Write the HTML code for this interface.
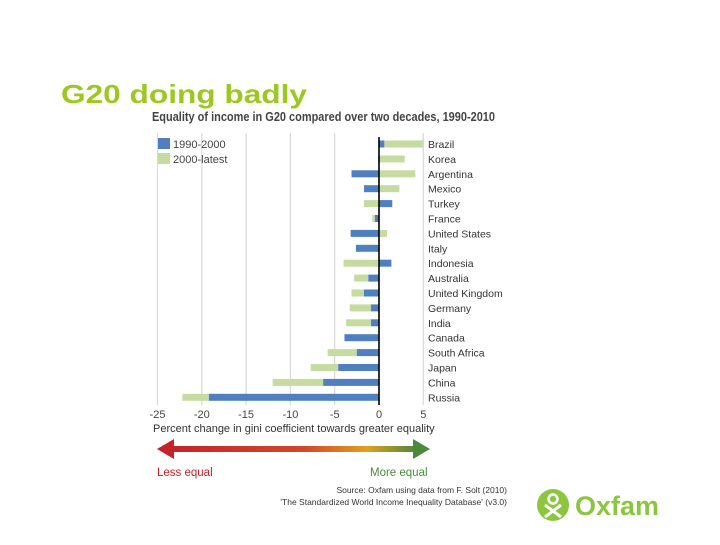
<!DOCTYPE html>
<html><head><meta charset="utf-8"><style>
body{margin:0;background:#fff;width:720px;height:540px;overflow:hidden;font-family:"Liberation Sans",sans-serif}
</style></head><body>
<svg width="720" height="540" xmlns="http://www.w3.org/2000/svg">
<defs>
<linearGradient id="ag" x1="0" x2="1"><stop offset="0" stop-color="#c4232a"/><stop offset="0.55" stop-color="#cf4a2a"/><stop offset="0.8" stop-color="#e0a020"/><stop offset="1" stop-color="#4a8a3a"/></linearGradient>
</defs>
<text x="61" y="103" font-size="26" font-weight="bold" fill="#9dc820" textLength="246" lengthAdjust="spacingAndGlyphs">G20 doing badly</text>
<text x="152" y="121" font-size="12.5" font-weight="bold" fill="#444" textLength="343" lengthAdjust="spacingAndGlyphs">Equality of income in G20 compared over two decades, 1990-2010</text>
<g id="grid"></g>
<g id="bars"></g>
<g id="labels"></g>
<rect x="158" y="138" width="12" height="11" fill="#4f7fbf"/>
<text x="173" y="148" font-size="11" fill="#444">1990-2000</text>
<rect x="158" y="153" width="12" height="11" fill="#c6dba0"/>
<text x="173" y="163" font-size="11" fill="#444">2000-latest</text>
<text x="153" y="432" font-size="11" fill="#333">Percent change in gini coefficient towards greater equality</text>
<g>
<rect x="170" y="446" width="246" height="6" fill="url(#ag)"/>
<polygon points="157,449 174,439 174,459" fill="#c4232a"/>
<polygon points="430,449 413,439 413,459" fill="#4a8a3a"/>
</g>
<text x="157" y="476" font-size="11.5" fill="#c4232a">Less equal</text>
<text x="370" y="476" font-size="11.5" fill="#4a8a3a">More equal</text>
<text x="507" y="493" font-size="8.5" fill="#333" text-anchor="end">Source: Oxfam using data from F. Solt (2010)</text>
<text x="507" y="505" font-size="8.5" fill="#333" text-anchor="end">'The Standardized World Income Inequality Database' (v3.0)</text>
<g>
<circle cx="553" cy="505" r="16" fill="#8cc63f"/>
<circle cx="553" cy="499" r="4.5" fill="none" stroke="#fff" stroke-width="2.5"/>
<path d="M545,505 L561,517 M561,505 L545,517" stroke="#fff" stroke-width="3"/>
<text x="575" y="515" font-size="27" font-weight="bold" fill="#8cc63f">Oxfam</text>
</g>
</svg>
<script>
const countries=["Brazil","Korea","Argentina","Mexico","Turkey","France","United States","Italy","Indonesia","Australia","United Kingdom","Germany","India","Canada","South Africa","Japan","China","Russia"];
const v1990=[0.6,-0.1,-3.1,-1.7,1.5,-0.45,-3.2,-2.6,1.4,-1.2,-1.7,-0.9,-0.9,-3.9,-2.5,-4.6,-6.3,-19.2];
const v2000=[4.4,2.9,4.1,2.3,-1.7,-0.3,0.9,0,-4.0,-1.6,-1.4,-2.4,-2.8,0,-3.3,-3.1,-5.7,-3.0];
const ticks=[-25,-20,-15,-10,-5,0,5];
const NS="http://www.w3.org/2000/svg";
const x=v=>379+v*8.86;
const y=i=>144+i*14.9;
function mk(t,a,p){const e=document.createElementNS(NS,t);for(const k in a)e.setAttribute(k,a[k]);document.getElementById(p).appendChild(e);return e;}
ticks.forEach(t=>{
 if(t!==0){const l=mk("line",{x1:x(t),x2:x(t),y1:133,y2:405,stroke:"#d8d8d8","stroke-width":1.2},"grid");
 
 }
 const tx=mk("text",{x:x(t),y:418,"font-size":11,fill:"#444","text-anchor":"middle"},"grid");
 tx.textContent=t;
 
 
});
countries.forEach((c,i)=>{
 const a=v1990[i],b=v2000[i];
 const bs=(b*a>0)?a:0;
 const g=mk("rect",{x:Math.min(x(bs),x(bs+b)),y:y(i)-3.5,width:Math.abs(x(bs+b)-x(bs)),height:7,fill:"#c6dba0"},"bars");
 
 
 const r=mk("rect",{x:Math.min(x(0),x(a)),y:y(i)-3.5,width:Math.abs(x(a)-x(0)),height:7,fill:"#4f7fbf"},"bars");
 
 
 const t=mk("text",{x:428,y:y(i)+4,"font-size":10.5,fill:"#333"},"labels");
 t.textContent=c;
 
 
});
const z=mk("line",{x1:x(0),x2:x(0),y1:137,y2:405,stroke:"#000","stroke-width":1.6},"bars");


</script>
</body></html>
